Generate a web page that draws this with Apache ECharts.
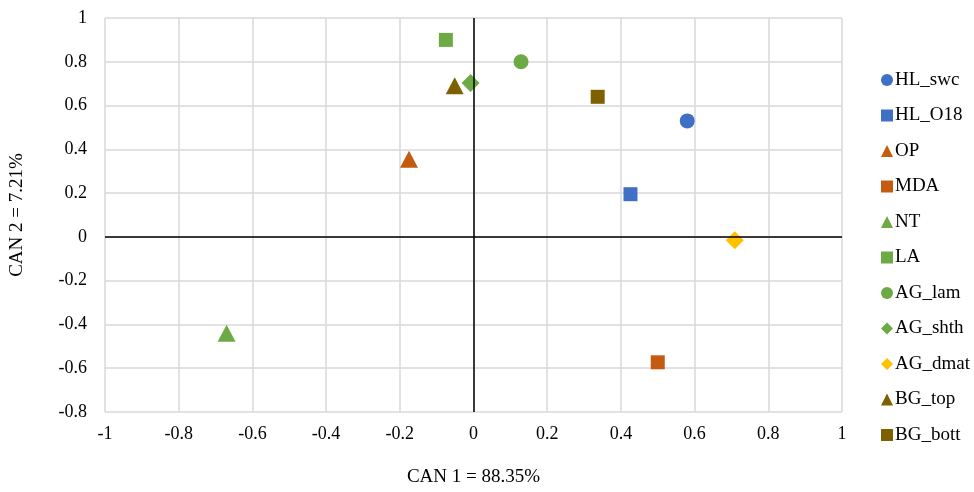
<!DOCTYPE html>
<html>
<head>
<meta charset="utf-8">
<script src="https://cdn.jsdelivr.net/npm/echarts@6/dist/echarts.min.js"></script>
<style>html,body{margin:0;padding:0;background:#fff;}#c{width:974px;height:492px;}</style>
</head>
<body>
<div id="c"></div>
<script>
const names = ['HL_swc','HL_O18','OP','MDA','NT','LA','AG_lam','AG_shth','AG_dmat','BG_top','BG_bott'];
const can1 = [0.58, 0.426, -0.175, 0.50, -0.67, -0.075, 0.129, -0.008, 0.709, -0.051, 0.337];
const can2 = [0.53, 0.195, 0.355, -0.573, -0.44, 0.90, 0.80, 0.703, -0.015, 0.69, 0.64];
const xTitle = 'CAN 1 = 88.35%';
const yTitle = 'CAN 2 = 7.21%';

const colors = ['#3F70C6','#3F70C6','#C55A11','#C55A11','#6DAA45','#6DAA45','#6DAA45','#6DAA45','#FFC000','#7F6000','#7F6000'];
const symbols = ['circle','rect','triangle','rect','triangle','rect','circle','diamond','diamond','triangle','rect'];
const sizes = {circle:15, rect:14, triangle:[18,17], diamond:18};

const font = 'Liberation Serif';
const series = names.map((n,i)=>({
  name:n, type:'scatter', z:3,
  symbol:symbols[i], symbolSize:sizes[symbols[i]],
  itemStyle:{color:colors[i], opacity:1},
  data:[[can1[i], can2[i]]]
}));
series.push({
  name:'zero', type:'line', data:[], z:1, silent:true,
  markLine:{silent:true, symbol:'none', animation:false,
    label:{show:false},
    lineStyle:{color:'#000', width:1.5, type:'solid', opacity:1},
    data:[{xAxis:0},{yAxis:0}]}
});

const chart = echarts.init(document.getElementById('c'));
chart.setOption({
  animation:false,
  grid:{left:100, right:132, top:18, bottom:77},
  xAxis:{type:'value', min:-1, max:1, interval:0.2,
    name:xTitle, nameLocation:'middle', nameGap:56,
    nameTextStyle:{fontFamily:font, fontSize:19, color:'#000'},
    axisLine:{show:false, onZero:false}, axisTick:{show:false},
    axisLabel:{margin:13, fontFamily:font, fontSize:18, color:'#000',
      formatter:v=>String(Math.round(v*10)/10)},
    splitLine:{lineStyle:{color:'#d9d9d9', width:1.5}}},
  yAxis:{type:'value', min:-0.8, max:1, interval:0.2,
    name:yTitle, nameLocation:'middle', nameGap:78,
    nameTextStyle:{fontFamily:font, fontSize:19, color:'#000'},
    axisLine:{show:false, onZero:false}, axisTick:{show:false},
    axisLabel:{margin:18, fontFamily:font, fontSize:18, color:'#000',
      formatter:v=>String(Math.round(v*10)/10)},
    splitLine:{lineStyle:{color:'#d9d9d9', width:1.5}}},
  legend:{data:names, orient:'vertical', left:876, top:65,
    itemWidth:12, itemHeight:12, itemGap:15.5,
    textStyle:{fontFamily:font, fontSize:19, color:'#000', lineHeight:20, padding:[0,0,0,-3]}},
  series:series
});
</script>
</body>
</html>
